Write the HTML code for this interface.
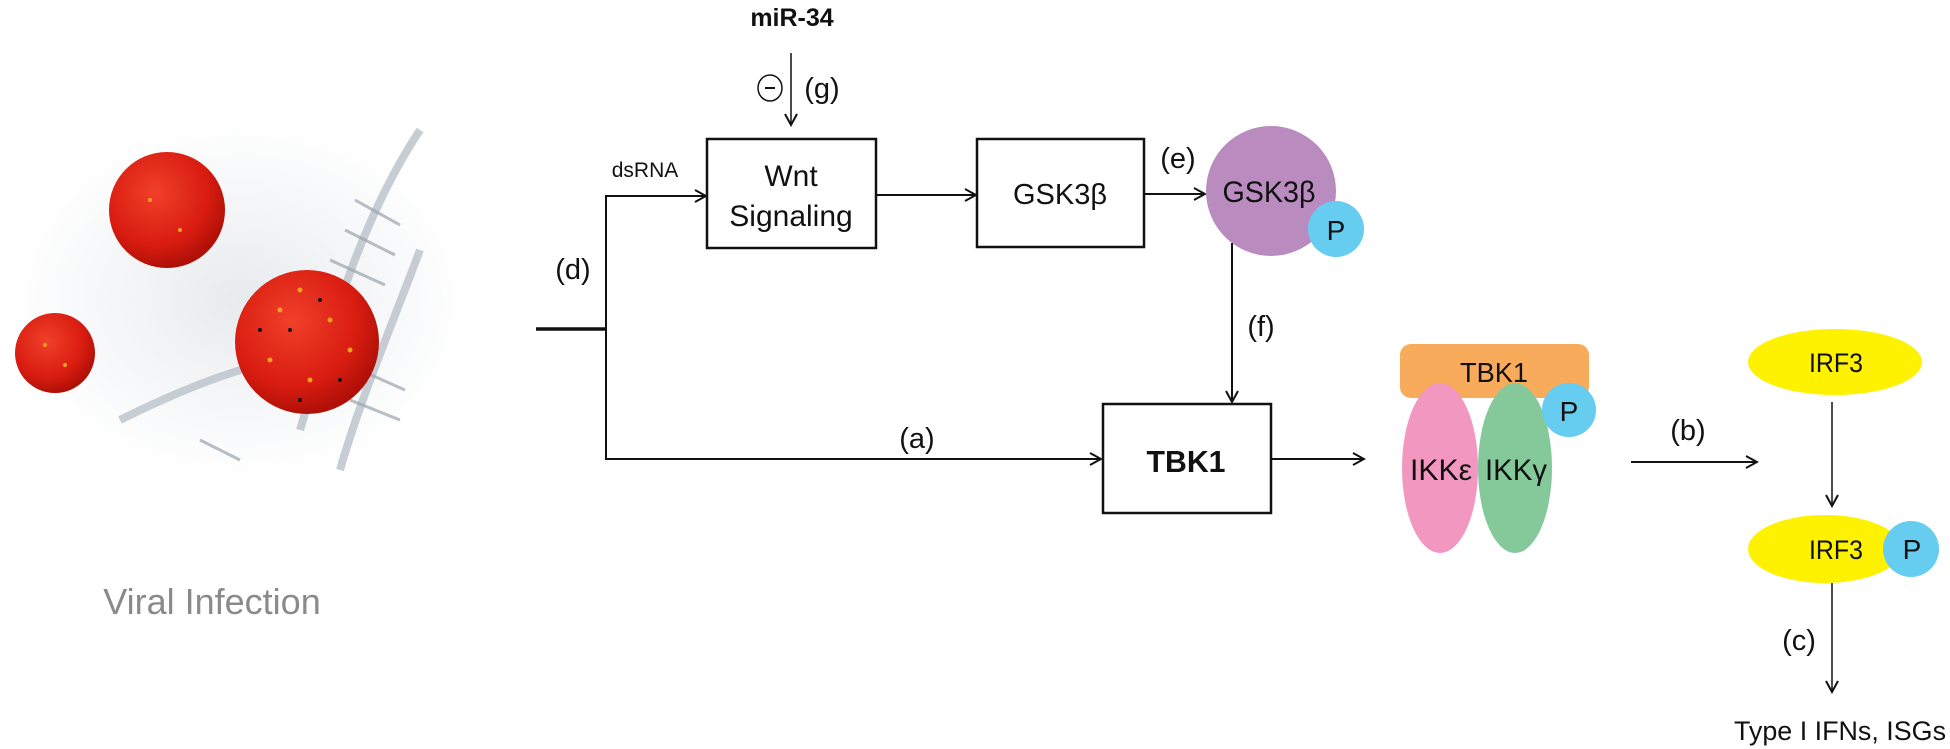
<!DOCTYPE html>
<html><head><meta charset="utf-8"><style>
html,body{margin:0;padding:0;background:#fff;}
svg{display:block;}
text{font-family:"Liberation Sans",sans-serif;fill:#111;}
</style></head><body>
<svg width="1950" height="749" viewBox="0 0 1950 749" xmlns="http://www.w3.org/2000/svg">
<defs>
<marker id="ah" markerWidth="14" markerHeight="14" refX="12" refY="7" orient="auto" markerUnits="userSpaceOnUse">
<polyline points="1,1 12,7 1,13" fill="none" stroke="#111" stroke-width="2"/>
</marker>
<radialGradient id="rv" cx="40%" cy="35%" r="65%">
<stop offset="0" stop-color="#f0402a"/><stop offset="0.7" stop-color="#d81c10"/><stop offset="1" stop-color="#b01008"/>
</radialGradient>
<radialGradient id="bg" cx="50%" cy="50%" r="50%">
<stop offset="0" stop-color="#e2e6ea"/><stop offset="1" stop-color="#ffffff"/>
</radialGradient>
</defs>

<!-- virus image -->
<ellipse cx="240" cy="300" rx="230" ry="180" fill="url(#bg)" opacity="0.8"/>
<g stroke="#b9c2ca" stroke-width="8" fill="none" opacity="0.8">
<path d="M420 130 C360 220 330 330 300 430"/>
<path d="M420 250 C390 330 360 400 340 470"/>
<path d="M120 420 C200 380 260 360 330 350"/>
</g>
<g stroke="#9aa4ad" stroke-width="3" opacity="0.7">
<line x1="355" y1="200" x2="400" y2="225"/><line x1="345" y1="230" x2="395" y2="255"/>
<line x1="330" y1="260" x2="385" y2="285"/><line x1="360" y1="370" x2="405" y2="390"/>
<line x1="350" y1="400" x2="400" y2="420"/><line x1="200" y1="440" x2="240" y2="460"/>
</g>
<circle cx="167" cy="210" r="58" fill="url(#rv)"/>
<circle cx="55" cy="353" r="40" fill="url(#rv)"/>
<circle cx="307" cy="342" r="72" fill="url(#rv)"/>
<g fill="#f0a020">
<circle cx="280" cy="310" r="2.5"/><circle cx="300" cy="290" r="2.5"/><circle cx="330" cy="320" r="2.5"/><circle cx="270" cy="360" r="2.5"/><circle cx="310" cy="380" r="2.5"/><circle cx="350" cy="350" r="2.5"/><circle cx="150" cy="200" r="2"/><circle cx="180" cy="230" r="2"/><circle cx="45" cy="345" r="2"/><circle cx="65" cy="365" r="2"/>
</g>
<g fill="#111">
<circle cx="290" cy="330" r="2"/><circle cx="320" cy="300" r="2"/><circle cx="340" cy="380" r="2"/><circle cx="260" cy="330" r="2"/><circle cx="300" cy="400" r="2"/>
</g>
<text x="212" y="614" font-size="36" text-anchor="middle" style="fill:#8a8a8a">Viral Infection</text>

<!-- miR-34 -->
<text x="792" y="26" font-size="25" font-weight="bold" text-anchor="middle">miR-34</text>
<line x1="791" y1="53" x2="791" y2="125" stroke="#111" stroke-width="1.5" marker-end="url(#ah)"/>
<ellipse cx="770" cy="88" rx="12" ry="13" fill="none" stroke="#111" stroke-width="1.5"/>
<line x1="765" y1="88" x2="775" y2="88" stroke="#111" stroke-width="2"/>
<text x="822" y="98" font-size="29" text-anchor="middle">(g)</text>

<!-- Wnt box -->
<rect x="707" y="139" width="169" height="109" fill="#fff" stroke="#111" stroke-width="2.5"/>
<text x="791" y="186" font-size="30" text-anchor="middle">Wnt</text>
<text x="791" y="226" font-size="30" text-anchor="middle">Signaling</text>
<text x="645" y="177" font-size="21" text-anchor="middle">dsRNA</text>

<!-- left connectors -->
<line x1="536" y1="329" x2="606" y2="329" stroke="#111" stroke-width="3.5"/>
<line x1="606" y1="196" x2="606" y2="460" stroke="#111" stroke-width="2"/>
<line x1="605" y1="196" x2="706" y2="196" stroke="#111" stroke-width="2" marker-end="url(#ah)"/>
<line x1="605" y1="459" x2="1101" y2="459" stroke="#111" stroke-width="2" marker-end="url(#ah)"/>
<text x="573" y="279" font-size="29" text-anchor="middle">(d)</text>
<text x="917" y="448" font-size="29" text-anchor="middle">(a)</text>

<!-- GSK box -->
<line x1="876" y1="195" x2="976" y2="195" stroke="#111" stroke-width="2" marker-end="url(#ah)"/>
<rect x="977" y="139" width="167" height="108" fill="#fff" stroke="#111" stroke-width="2.5"/>
<text x="1060" y="204" font-size="29" text-anchor="middle">GSK3β</text>
<line x1="1144" y1="194" x2="1205" y2="194" stroke="#111" stroke-width="2" marker-end="url(#ah)"/>
<text x="1178" y="168" font-size="29" text-anchor="middle">(e)</text>

<!-- GSK circle -->
<circle cx="1271" cy="191" r="65" fill="#b98bbf"/>
<circle cx="1336" cy="229" r="28" fill="#66ccf0"/>
<text x="1269" y="202" font-size="30" text-anchor="middle" textLength="93" lengthAdjust="spacingAndGlyphs">GSK3β</text>
<text x="1336" y="240" font-size="28" text-anchor="middle">P</text>
<line x1="1232" y1="243" x2="1232" y2="402" stroke="#111" stroke-width="2" marker-end="url(#ah)"/>
<text x="1261" y="336" font-size="29" text-anchor="middle">(f)</text>

<!-- TBK1 box -->
<rect x="1103" y="404" width="168" height="109" fill="#fff" stroke="#111" stroke-width="2.5"/>
<text x="1186" y="472" font-size="31" font-weight="bold" text-anchor="middle" textLength="79" lengthAdjust="spacingAndGlyphs">TBK1</text>
<line x1="1271" y1="459" x2="1364" y2="459" stroke="#111" stroke-width="2" marker-end="url(#ah)"/>

<!-- complex -->
<rect x="1400" y="344" width="189" height="54" rx="11" fill="#f9ab5c"/>
<text x="1494" y="382" font-size="28" text-anchor="middle" textLength="68" lengthAdjust="spacingAndGlyphs">TBK1</text>
<ellipse cx="1440" cy="468" rx="38" ry="85" fill="#f197c0"/>
<ellipse cx="1515" cy="468" rx="37" ry="85" fill="#85c99b"/>
<circle cx="1569" cy="410" r="27" fill="#66ccf0"/>
<text x="1569" y="421" font-size="28" text-anchor="middle">P</text>
<text x="1441" y="480" font-size="30" text-anchor="middle" textLength="62" lengthAdjust="spacingAndGlyphs">IKKε</text>
<text x="1516" y="480" font-size="30" text-anchor="middle" textLength="62" lengthAdjust="spacingAndGlyphs">IKKγ</text>

<!-- b -->
<line x1="1631" y1="462" x2="1757" y2="462" stroke="#111" stroke-width="2" marker-end="url(#ah)"/>
<text x="1688" y="440" font-size="29" text-anchor="middle">(b)</text>

<!-- IRF3 -->
<ellipse cx="1835" cy="362" rx="87" ry="33" fill="#fef200"/>
<text x="1836" y="372" font-size="27" text-anchor="middle" textLength="54" lengthAdjust="spacingAndGlyphs">IRF3</text>
<line x1="1832" y1="402" x2="1832" y2="506" stroke="#111" stroke-width="1.5" marker-end="url(#ah)"/>
<ellipse cx="1825" cy="549" rx="77" ry="34" fill="#fef200"/>
<circle cx="1911" cy="549" r="28" fill="#66ccf0"/>
<text x="1836" y="559" font-size="27" text-anchor="middle" textLength="54" lengthAdjust="spacingAndGlyphs">IRF3</text>
<text x="1912" y="559" font-size="28" text-anchor="middle">P</text>
<line x1="1832" y1="583" x2="1832" y2="692" stroke="#111" stroke-width="1.5" marker-end="url(#ah)"/>
<text x="1799" y="650" font-size="29" text-anchor="middle">(c)</text>
<text x="1840" y="740" font-size="27" text-anchor="middle" textLength="212" lengthAdjust="spacingAndGlyphs">Type I IFNs, ISGs</text>
</svg>
</body></html>
